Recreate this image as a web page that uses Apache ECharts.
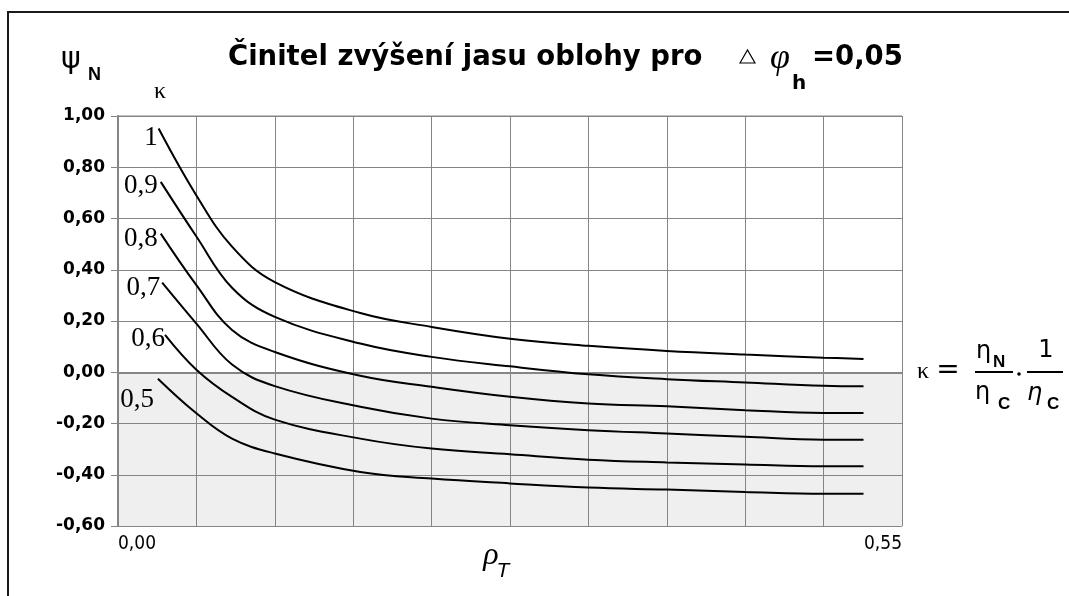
<!DOCTYPE html>
<html>
<head>
<meta charset="utf-8">
<script src="https://cdn.jsdelivr.net/npm/echarts@6/dist/echarts.min.js"></script>
<style>
  html, body { margin: 0; padding: 0; background: #fff; }
  #chart { width: 1069px; height: 596px; }
</style>
</head>
<body>
<div id="chart"></div>
<script>
// kappa curves, psi_N vs rho_T
const kappa = ['1', '0,9', '0,8', '0,7', '0,6', '0,5']
const rhoStart = [0.0285, 0.030, 0.030, 0.031, 0.033, 0.028]
const psiStart = [0.951, 0.743, 0.541, 0.350, 0.146, -0.025]
const rho = [0.055, 0.08, 0.11, 0.17, 0.22, 0.275, 0.33, 0.385, 0.44, 0.495, 0.523]
const psiK10 = [0.69, 0.49, 0.352, 0.231, 0.177, 0.131, 0.103, 0.083, 0.069, 0.057, 0.052]
const psiK09 = [0.53, 0.33, 0.216, 0.112, 0.060, 0.023, -0.008, -0.027, -0.040, -0.053, -0.055]
const psiK08 = [0.34, 0.165, 0.079, -0.014, -0.057, -0.096, -0.122, -0.133, -0.148, -0.159, -0.159]
const psiK07 = [0.19, 0.030, -0.054, -0.135, -0.181, -0.207, -0.226, -0.239, -0.252, -0.263, -0.263]
const psiK06 = [0.01, -0.096, -0.185, -0.259, -0.298, -0.320, -0.341, -0.352, -0.360, -0.367, -0.367]
const psiK05 = [-0.16, -0.259, -0.317, -0.389, -0.415, -0.434, -0.450, -0.458, -0.467, -0.474, -0.474]
const psiAll = [psiK10, psiK09, psiK08, psiK07, psiK06, psiK05]

// where the kappa label sits next to the start of its curve
const labelOffset = [[2, 9], [0, 4], [0, 5], [1, 5], [3, 4], [-1, 21]]

const fmt = v => v.toFixed(2).replace('.', ',')

const chart = echarts.init(document.getElementById('chart'))

const series = psiAll.map((vals, i) => ({
  name: kappa[i],
  type: 'line',
  data: [
    {
      value: [rhoStart[i], psiStart[i]],
      label: {
        show: true,
        position: 'left',
        distance: 3,
        offset: labelOffset[i],
        formatter: kappa[i],
        fontFamily: 'Liberation Serif',
        fontSize: 27,
        color: '#000'
      }
    }
  ].concat(vals.map((v, j) => [rho[j], v])),
  smooth: 0.4,
  symbol: 'circle',
  symbolSize: 0,
  showSymbol: true,
  showAllSymbol: true,
  label: { show: false },
  itemStyle: { color: '#000' },
  lineStyle: { color: '#000', width: 2 },
  silent: true,
  animation: false
}))

const txt = (text, x, y, font, extra) => ({
  type: 'text',
  silent: true,
  style: Object.assign({ text, x, y, font, fill: '#000', verticalAlign: 'middle' }, extra || {})
})
const hline = (x1, x2, y) => ({
  type: 'line',
  silent: true,
  shape: { x1, y1: y, x2, y2: y },
  style: { stroke: '#000', lineWidth: 2 }
})

chart.setOption({
  backgroundColor: '#fff',
  animation: false,
  grid: { left: 118, top: 116, right: 167, bottom: 70, show: true, borderColor: '#858585', borderWidth: 1 },
  xAxis: {
    type: 'value',
    min: 0,
    max: 0.55,
    interval: 0.055,
    axisLine: { show: true, lineStyle: { color: '#858585', width: 2 } },
    axisTick: { show: false },
    axisLabel: {
      interval: 0,
      margin: 9,
      alignMinLabel: 'left',
      alignMaxLabel: 'right',
      fontFamily: 'Liberation Sans Narrow, DejaVu Sans Condensed, sans-serif',
      fontSize: 19,
      color: '#000',
      formatter: v => (Math.abs(v) < 1e-6 || Math.abs(v - 0.55) < 1e-6) ? fmt(v) : ''
    },
    splitLine: { show: true, lineStyle: { color: '#858585', width: 1 } }
  },
  yAxis: {
    type: 'value',
    min: -0.6,
    max: 1,
    interval: 0.2,
    axisLine: { show: true, onZero: false, lineStyle: { color: '#858585', width: 2 } },
    axisTick: { show: true, length: 7, lineStyle: { color: '#858585', width: 1 } },
    axisLabel: {
      margin: 13,
      fontFamily: 'DejaVu Sans',
      fontWeight: 'bold',
      fontSize: 17,
      color: '#000',
      formatter: fmt
    },
    splitLine: { show: true, lineStyle: { color: '#858585', width: 1 } },
    splitArea: {
      show: true,
      areaStyle: {
        color: ['#efefef', '#efefef', '#efefef', '#fff', '#fff', '#fff', '#fff', '#fff']
      }
    }
  },
  series,
  graphic: [
    // frame
    {
      type: 'rect',
      silent: true,
      shape: { x: 8, y: 12, width: 1080, height: 600 },
      style: { fill: 'none', stroke: '#1a1a1a', lineWidth: 2 }
    },
    // title
    txt('Činitel zvýšení jasu oblohy pro', 228, 58, 'bold 27.5px DejaVu Sans'),
    {
      type: 'polygon',
      silent: true,
      shape: { points: [[740, 63], [747.5, 50], [755, 63]] },
      style: { fill: 'none', stroke: '#000', lineWidth: 1.2 }
    },
    txt('φ', 780, 59, 'italic 36px Liberation Serif', { align: 'center' }),
    txt('h', 799, 84, 'bold 20px DejaVu Sans', { align: 'center' }),
    txt('=0,05', 812, 58, 'bold 27.5px DejaVu Sans'),
    // y axis name and kappa header
    txt('ψ', 61, 60, '30px DejaVu Sans'),
    txt('N', 88, 75, 'bold 18px Liberation Sans'),
    txt('κ', 160, 92, '24px Liberation Serif', { align: 'center' }),
    // x axis name
    txt('ρ', 491, 556, 'italic 32px Liberation Serif', { align: 'center' }),
    txt('T', 503, 571, 'italic 21px Liberation Sans', { align: 'center' }),
    // kappa definition
    txt('κ', 917, 372, '24px Liberation Serif'),
    txt('=', 948, 371, '28px DejaVu Sans', { align: 'center' }),
    txt('η', 976, 352, '24px DejaVu Sans'),
    txt('N', 993, 362, 'bold 17px Liberation Sans'),
    hline(975, 1013, 372),
    txt('η', 975, 393, '24px DejaVu Sans'),
    txt('C', 998, 404, 'bold 17px Liberation Sans'),
    {
      type: 'circle',
      silent: true,
      shape: { cx: 1019, cy: 374, r: 1.8 },
      style: { fill: '#000' }
    },
    txt('1', 1046, 351, '24px DejaVu Sans', { align: 'center' }),
    hline(1027, 1063, 372),
    txt('η', 1027, 394, 'italic 24px DejaVu Sans'),
    txt('C', 1047, 404, 'bold 17px Liberation Sans')
  ]
})
</script>
</body>
</html>
